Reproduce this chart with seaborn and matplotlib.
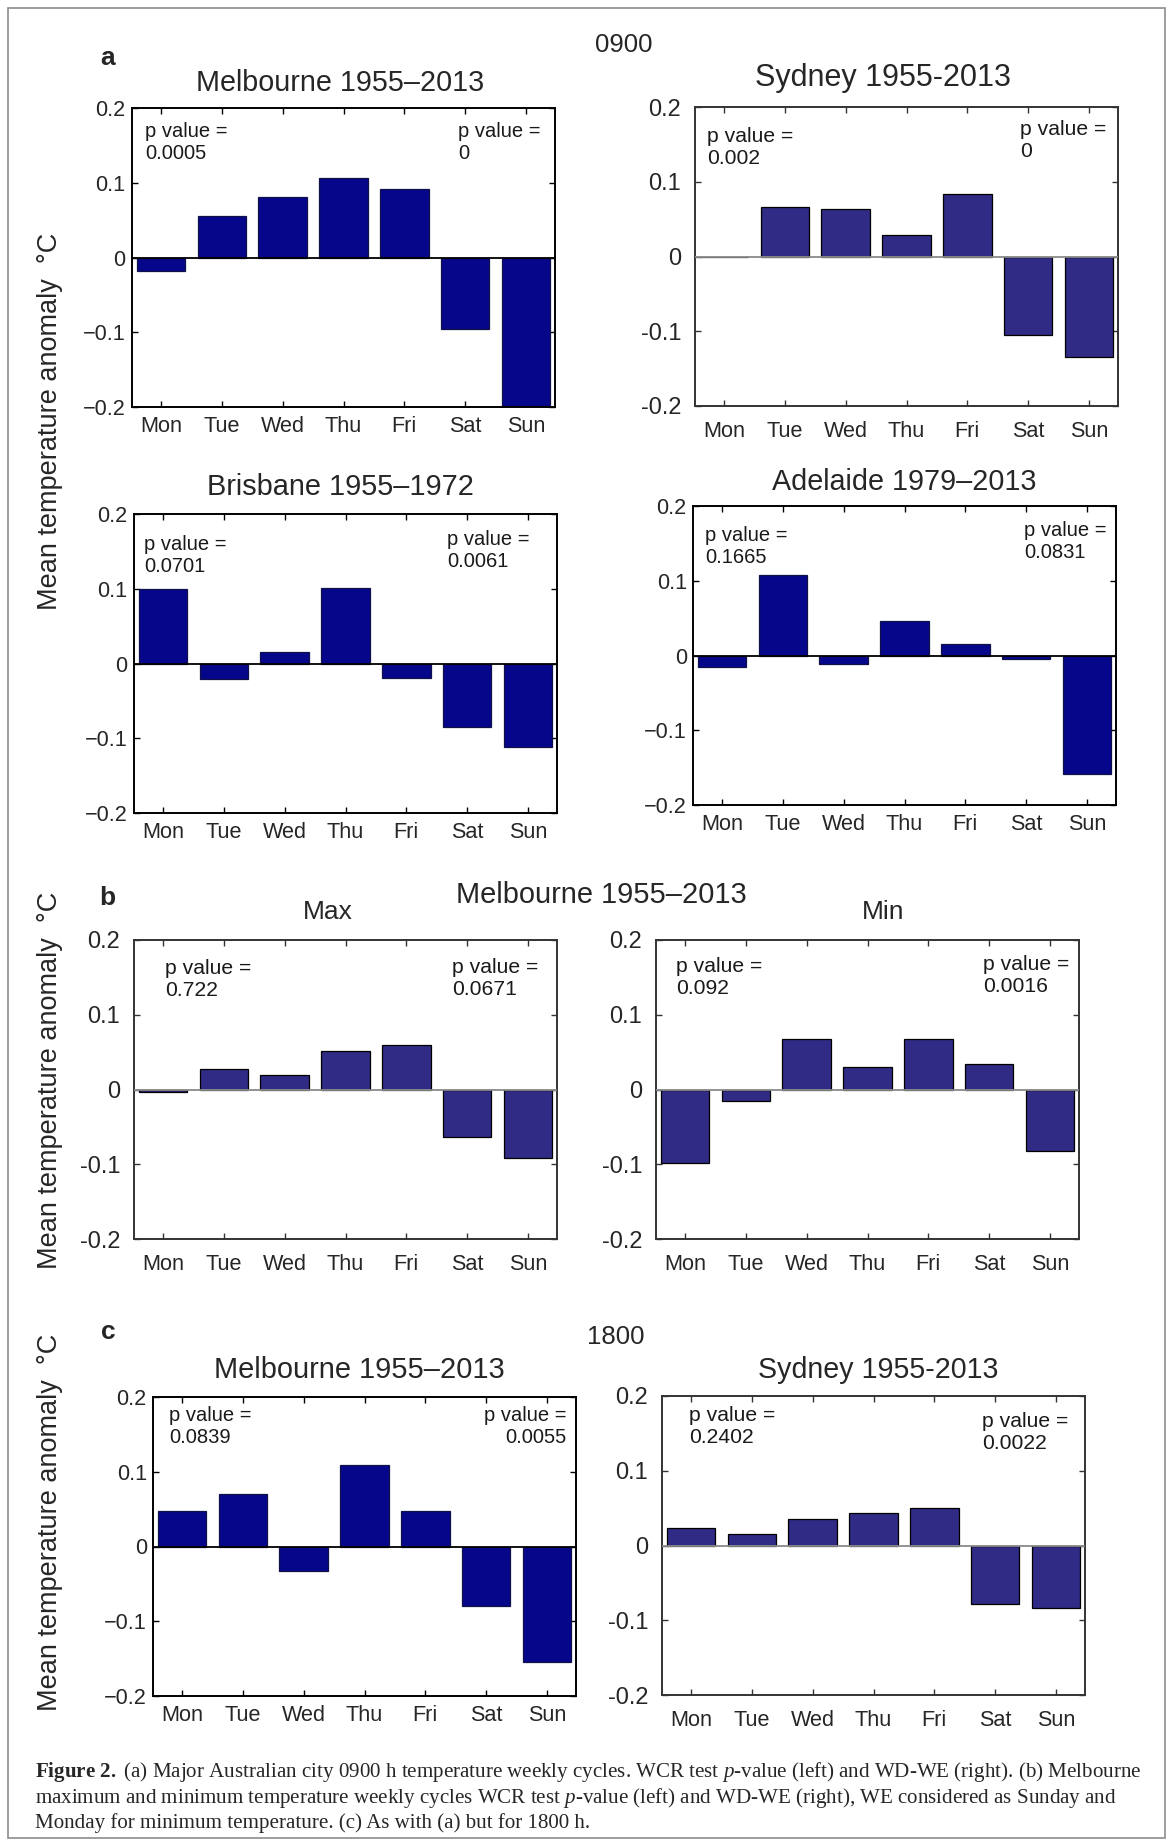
import numpy as np
import pandas as pd
import matplotlib
matplotlib.use("Agg")
import matplotlib.pyplot as plt
from matplotlib.patches import Rectangle
import seaborn as sns

# weekly cycle anomalies (degC)
days = ["Mon", "Tue", "Wed", "Thu", "Fri", "Sat", "Sun"]
melb_0900 = [-0.018, 0.055, 0.081, 0.107, 0.092, -0.095, -0.200]
syd_0900 = [-0.001, 0.066, 0.064, 0.029, 0.084, -0.105, -0.135]
bris_0900 = [0.099, -0.021, 0.016, 0.101, -0.020, -0.085, -0.112]
adel_0900 = [-0.016, 0.108, -0.011, 0.046, 0.016, -0.005, -0.159]
melb_max = [-0.003, 0.028, 0.019, 0.051, 0.060, -0.063, -0.091]
melb_min = [-0.098, -0.016, 0.068, 0.030, 0.068, 0.034, -0.082]
melb_1800 = [0.048, 0.070, -0.033, 0.109, 0.047, -0.080, -0.154]
syd_1800 = [0.023, 0.015, 0.036, 0.043, 0.050, -0.078, -0.084]

titles = ["Melbourne 1955\u20132013", "Sydney 1955-2013", "Brisbane 1955\u20131972",
          "Adelaide 1979\u20132013", "Max", "Min", "Melbourne 1955\u20132013",
          "Sydney 1955-2013"]
p_left = ["0.0005", "0.002", "0.0701", "0.1665", "0.722", "0.092", "0.0839", "0.2402"]
p_right = ["0", "0", "0.0061", "0.0831", "0.0671", "0.0016", "0.0055", "0.0022"]
series = [melb_0900, syd_0900, bris_0900, adel_0900, melb_max, melb_min, melb_1800, syd_1800]

W, H = 1173, 1847
sns.set_theme(style="ticks")
plt.rcParams["font.family"] = ["Liberation Sans", "DejaVu Sans"]
plt.rcParams["mathtext.fontset"] = "custom"
plt.rcParams["mathtext.rm"] = "Liberation Serif"
plt.rcParams["mathtext.it"] = "Liberation Serif:italic"
plt.rcParams["mathtext.bf"] = "Liberation Serif:bold"

fig = plt.figure(figsize=(W / 100, H / 100), dpi=100)
fig.patch.set_facecolor("white")

# layout in pixels: left, top, style, title (x, y, size), p-left (x, y), p-right (x, y)
AW, AH = 423, 299
layout = [
    (132, 108, "mel", (340, 83, 20.7), (145, 122), (458, 122)),
    (695, 107, "syd", (883, 78, 22), (707, 127), (1020, 120)),
    (134, 514, "mel", (340, 487, 20.8), (144, 535), (447, 530)),
    (693, 506, "mel", (904, 482, 20.7), (705, 526), (1024, 521)),
    (134, 940, "syd", (328, 912, 19), (165, 959), (452, 958)),
    (656, 940, "syd", (883, 912, 19), (676, 957), (983, 955)),
    (153, 1397, "mel", (359, 1370, 20.9), (169, 1406), (566, 1406)),
    (662, 1396, "syd", (878, 1370, 20.6), (689, 1406), (982, 1412)),
]

styles = {
    "mel": dict(color="#06068a", edge="#10104a", spine="black", zero="black",
                minus="\u2212", xpad=6.5, ypad=4.5, ysize=15.6, psize=14.5),
    "syd": dict(color="#302b84", edge="black", spine="#333333", zero="#8a8a8a",
                minus="-", xpad=10.5, ypad=10, ysize=17, psize=15.2),
}


def fx(x):
    return x / W


def fy(y):
    return 1 - y / H


for i, (left, top, st, tt, pl, pr) in enumerate(layout):
    s = styles[st]
    ax = fig.add_axes([fx(left), fy(top + AH), AW / W, AH / H])
    df = pd.DataFrame({"day": days, "anomaly": series[i]})
    sns.barplot(data=df, x="day", y="anomaly", color=s["color"], saturation=1,
                width=0.8, edgecolor=s["edge"], linewidth=0.9, ax=ax, zorder=2)
    ax.axhline(0, color=s["zero"], lw=1.3, zorder=3)
    ax.set_xlim(-0.48, 6.48)
    ax.set_ylim(-0.2, 0.2)
    yt = [-0.2, -0.1, 0, 0.1, 0.2]
    ax.set_yticks(yt)
    ax.set_yticklabels([("%g" % v).replace("-", s["minus"]) for v in yt])
    ax.set_xlabel("")
    ax.set_ylabel("")
    ax.tick_params(direction="in", top=True, right=True, length=4, width=1,
                   color=s["spine"])
    ax.tick_params(axis="x", pad=s["xpad"], labelsize=15.6)
    ax.tick_params(axis="y", pad=s["ypad"], labelsize=s["ysize"])
    for sp in ax.spines.values():
        sp.set_visible(True)
        sp.set_color(s["spine"])
        sp.set_linewidth(1.4)
    ax.set_facecolor("white")
    fig.text(fx(tt[0]), fy(tt[1]), titles[i], ha="center", va="center", fontsize=tt[2])
    fig.text(fx(pl[0]), fy(pl[1]), "p value =\n" + p_left[i], ha="left", va="top",
             fontsize=s["psize"], linespacing=1.2, color="#1a1a1a")
    if i == 6:
        fig.text(fx(pr[0]), fy(pr[1]), "p value =\n" + p_right[i], ha="right", va="top",
                 fontsize=s["psize"], linespacing=1.2, color="#1a1a1a",
                 multialignment="right")
    else:
        fig.text(fx(pr[0]), fy(pr[1]), "p value =\n" + p_right[i], ha="left", va="top",
                 fontsize=s["psize"], linespacing=1.2, color="#1a1a1a")

# panel letters and headers
for letter, (x, y) in zip(["a", "b", "c"], [(108, 58), (107, 898), (108, 1332)]):
    fig.text(fx(x), fy(y), letter, ha="center", va="center", fontsize=19, fontweight="bold")
fig.text(fx(595), fy(45), "0900", ha="left", va="center", fontsize=18.5)
fig.text(fx(601), fy(895), "Melbourne 1955\u20132013", ha="center", va="center", fontsize=20.9)
fig.text(fx(587), fy(1337), "1800", ha="left", va="center", fontsize=18.5)

ylab = "Mean temperature anomaly  \u00b0C"
for yc in [421, 1080, 1522]:
    fig.text(fx(50), fy(yc), ylab, rotation=90, ha="center", va="center", fontsize=19.5)

# caption
cap = [
    r"$\mathbf{Figure\ 2.}$ (a) Major Australian city 0900 h temperature weekly cycles. WCR test $\it{p}$-value (left) and WD-WE (right). (b) Melbourne",
    r"maximum and minimum temperature weekly cycles WCR test $\it{p}$-value (left) and WD-WE (right), WE considered as Sunday and",
    r"Monday for minimum temperature. (c) As with (a) but for 1800 h.",
]
cap_y = [1772, 1798, 1823]
texts = []
for line, y in zip(cap, cap_y):
    t = fig.text(fx(35), fy(y), line, ha="left", va="center", fontsize=14,
                 family=["Liberation Serif", "DejaVu Serif"])
    texts.append(t)
r = fig.canvas.get_renderer()
w0 = texts[0].get_window_extent(r).width
scale = 1113 / w0
for t in texts:
    t.set_fontsize(14 * scale)

fig.patches.append(Rectangle((fx(8), fy(1838)), (1165 - 8) / W, (1838 - 8) / H,
                             transform=fig.transFigure, fill=False,
                             edgecolor="#8c8c8c", lw=1.2))

fig.savefig("out.png", dpi=100, facecolor="white")
